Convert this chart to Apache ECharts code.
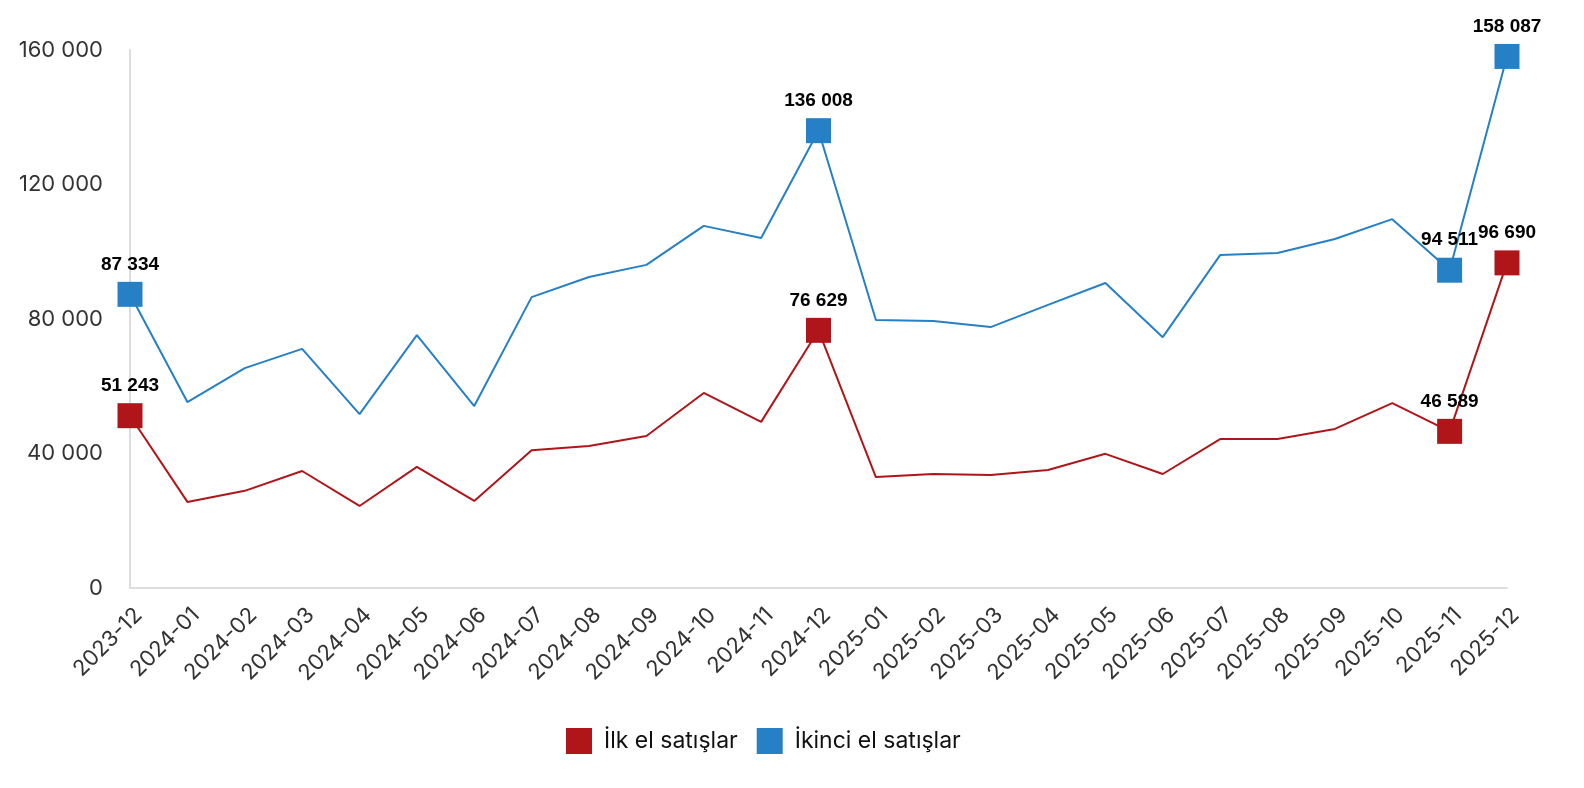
<!DOCTYPE html>
<html>
<head>
    <meta charset="utf-8">
    <title>Konut satışları</title>
    <script src="https://cdn.jsdelivr.net/npm/echarts@6/dist/echarts.min.js"></script>
    <style>
        html, body { margin: 0; padding: 0; background: #ffffff; }
        #chart { width: 1584px; height: 788px; }
    </style>
</head>
<body>
<div id="chart"></div>
<script>
    // aylar
    var months = ['2023-12', '2024-01', '2024-02', '2024-03', '2024-04', '2024-05', '2024-06',
        '2024-07', '2024-08', '2024-09', '2024-10', '2024-11', '2024-12', '2025-01', '2025-02',
        '2025-03', '2025-04', '2025-05', '2025-06', '2025-07', '2025-08', '2025-09', '2025-10',
        '2025-11', '2025-12'];
    var ilkEl = [51243, 25600, 28900, 34800, 24400, 36000, 25900, 41000, 42200, 45200, 58000, 49400,
        76629, 33000, 33900, 33600, 35100, 39900, 33900, 44300, 44300, 47300, 55000, 46589, 96690];
    var ikinciEl = [87334, 55300, 65400, 71100, 51700, 75200, 54100, 86500, 92500, 96100, 107700, 104100,
        136008, 79700, 79400, 77600, 84200, 90700, 74600, 99000, 99600, 103800, 109700, 94511, 158087];
    var yTicks = [0, 40000, 80000, 120000, 160000];
    // işaretli noktalar (ilk ay, yıl sonları, son iki ay)
    var markedIdx = [0, 12, 23, 24];

    function fmt(v) {
        return String(v).replace(/\B(?=(\d{3})+(?!\d))/g, ' ');
    }

    function buildData(values) {
        return values.map(function (v, i) {
            if (markedIdx.indexOf(i) < 0) return v;
            return {
                value: v,
                symbol: 'rect',
                symbolSize: 25,
                label: {show: true}
            };
        });
    }

    var chart = echarts.init(document.getElementById('chart'), null, {renderer: 'canvas'});

    var labelStyle = {
        show: false,
        position: 'top',
        distance: 8,
        formatter: function (p) { return fmt(p.value); },
        fontFamily: 'Liberation Sans',
        fontWeight: 'bold',
        fontSize: 19,
        color: '#000000'
    };

    var option = {
        animation: false,
        color: ['#B01619', '#2680C5'],
        grid: {left: 130, right: 77, top: 50, bottom: 200},
        legend: {
            bottom: 29,
            left: 561,
            icon: 'rect',
            itemWidth: 26,
            itemHeight: 26,
            itemGap: 19,
            textStyle: {fontFamily: 'Inter', fontSize: 23, color: '#111111', padding: [0, 0, 0, 7]},
            data: ['İlk el satışlar', 'İkinci el satışlar']
        },
        xAxis: {
            type: 'category',
            data: months,
            boundaryGap: false,
            axisLine: {lineStyle: {color: '#dddddd', width: 2}},
            axisTick: {show: false},
            axisLabel: {
                rotate: 45,
                interval: 0,
                margin: 15,
                verticalAlign: 'top',
                padding: [1, 0, 0, 0],
                fontFamily: 'Inter',
                fontSize: 22,
                color: '#333333'
            }
        },
        yAxis: {
            type: 'value',
            min: yTicks[0],
            max: yTicks[yTicks.length - 1],
            interval: 40000,
            axisLine: {show: true, lineStyle: {color: '#dddddd', width: 2}},
            axisTick: {show: false},
            splitLine: {show: false},
            axisLabel: {
                margin: 27,
                fontFamily: 'Inter',
                fontSize: 22,
                color: '#333333',
                formatter: function (v) { return fmt(v); }
            }
        },
        series: [
            {
                name: 'İlk el satışlar',
                type: 'line',
                data: buildData(ilkEl),
                symbol: 'none',
                lineStyle: {width: 2},
                label: labelStyle,
                z: 2
            },
            {
                name: 'İkinci el satışlar',
                type: 'line',
                data: buildData(ikinciEl),
                symbol: 'none',
                lineStyle: {width: 2},
                label: labelStyle,
                z: 3
            }
        ]
    };
    chart.setOption(option);
</script>
</body>
</html>
